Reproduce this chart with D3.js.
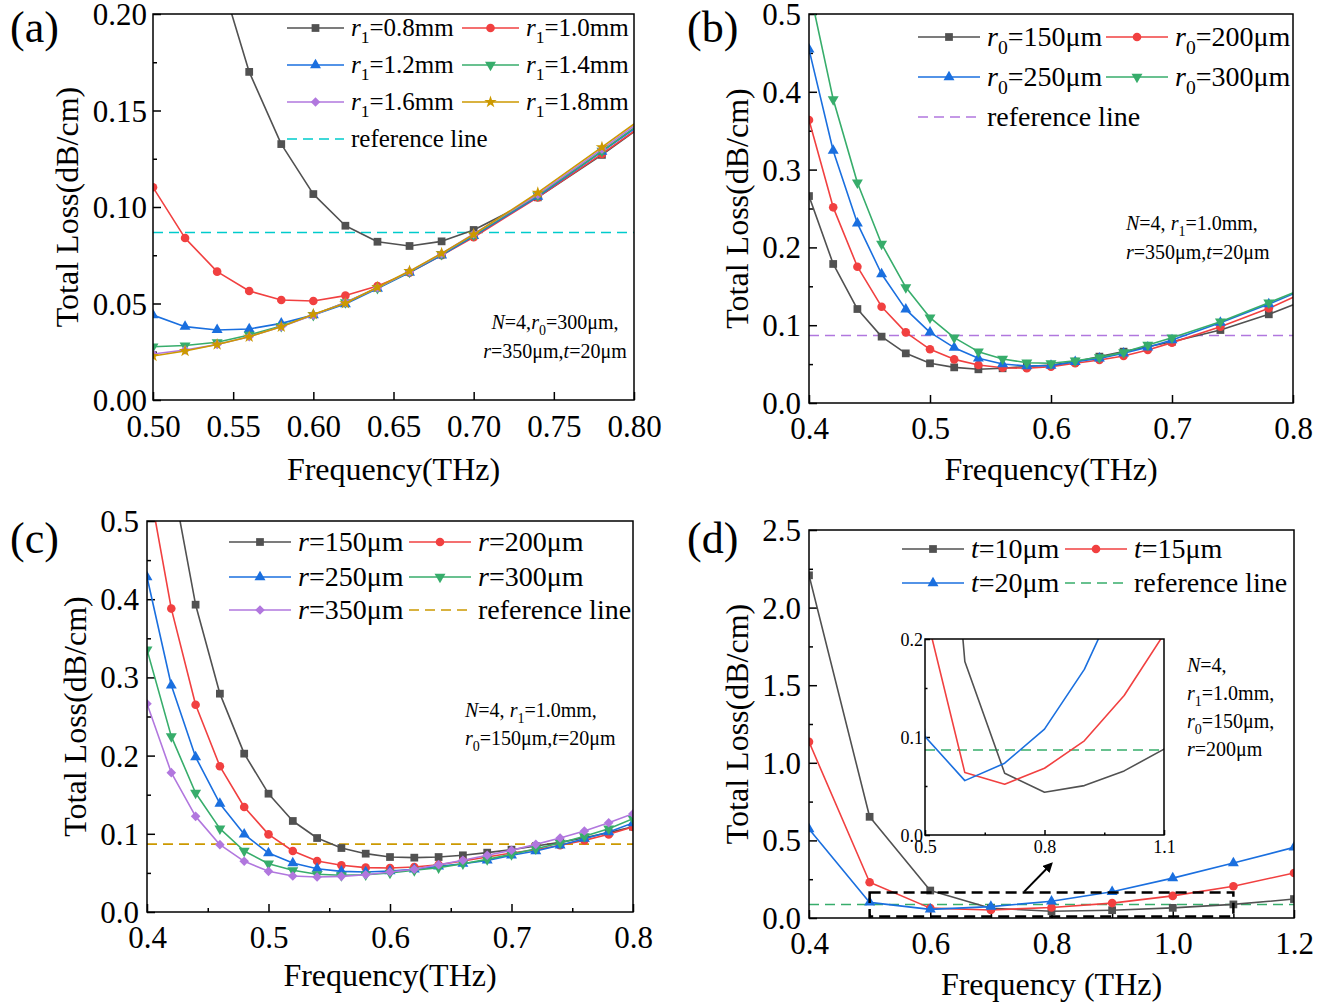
<!DOCTYPE html>
<html>
<head>
<meta charset="utf-8">
<script src="https://cdn.jsdelivr.net/npm/d3@7"></script>
<style>
  body { margin: 0; background: #fff; }
  svg { display: block; }
  text { font-family: 'Liberation Serif', 'Times New Roman', serif; fill: #000; }
</style>
</head>
<body>
<div id="chart"></div>
<script>
// ---------------- data ----------------
var refLoss = 0.0868;

// (a) r1 sweep
var freqA = [0.50,0.52,0.54,0.56,0.58,0.60,0.62,0.64,0.66,0.68,0.70,0.74,0.78,0.82];
var lossA_r08 = [0.370,0.290,0.225,0.170,0.1326,0.1067,0.0903,0.0820,0.0798,0.0822,0.0881,0.1050,0.1270,0.1510];
var lossA_r10 = [0.1102,0.0839,0.0665,0.0565,0.0518,0.0513,0.0541,0.0591,0.0660,0.0750,0.0843,0.1050,0.1275,0.1510];
var lossA_r12 = [0.0440,0.0380,0.0363,0.0368,0.0397,0.0440,0.0497,0.0577,0.0660,0.0750,0.0850,0.1054,0.1287,0.1520];
var lossA_r14 = [0.0276,0.0282,0.0299,0.0337,0.0383,0.0440,0.0505,0.0580,0.0663,0.0755,0.0855,0.1060,0.1290,0.1530];
var lossA_r16 = [0.0238,0.0259,0.0288,0.0328,0.0380,0.0440,0.0505,0.0582,0.0665,0.0758,0.0860,0.1065,0.1300,0.1540];
var lossA_r18 = [0.0228,0.0254,0.0288,0.0328,0.0380,0.0444,0.0501,0.0584,0.0668,0.0760,0.0858,0.1074,0.1310,0.1550];

// (b) r0 sweep
var freqB = [0.40,0.42,0.44,0.46,0.48,0.50,0.52,0.54,0.56,0.58,0.60,0.62,0.64,0.66,0.68,0.70,0.74,0.78,0.82];
var lossB_150 = [0.266,0.1787,0.1208,0.0853,0.0638,0.0510,0.0458,0.0433,0.0446,0.0470,0.0488,0.0531,0.0596,0.0660,0.0724,0.0788,0.0938,0.1140,0.1380];
var lossB_200 = [0.3638,0.2515,0.1752,0.1238,0.0908,0.0690,0.0561,0.0488,0.0454,0.0446,0.0467,0.0510,0.0552,0.0604,0.0681,0.0776,0.0981,0.1217,0.1500];
var lossB_250 = [0.4546,0.3243,0.2309,0.1658,0.1204,0.0908,0.0711,0.0574,0.0501,0.0476,0.0480,0.0530,0.0574,0.0639,0.0716,0.0810,0.1033,0.1272,0.1530];
var lossB_300 = [0.535,0.3903,0.2832,0.2044,0.1487,0.1097,0.0840,0.0660,0.0566,0.0518,0.0510,0.0544,0.0587,0.0651,0.0746,0.0840,0.1045,0.1290,0.1540];

// (c) r sweep
var freqC = [0.40,0.42,0.44,0.46,0.48,0.50,0.52,0.54,0.56,0.58,0.60,0.62,0.64,0.66,0.68,0.70,0.72,0.74,0.76,0.78,0.80];
var lossC_150 = [0.780,0.560,0.393,0.2792,0.2025,0.1513,0.1164,0.0946,0.0818,0.0746,0.0703,0.0695,0.0703,0.0725,0.0759,0.0797,0.0843,0.0890,0.0950,0.1015,0.1090];
var lossC_200 = [0.560,0.388,0.265,0.1863,0.1343,0.0993,0.0780,0.0652,0.0597,0.0567,0.0563,0.0575,0.0605,0.0652,0.0703,0.0754,0.0797,0.0853,0.0916,0.0993,0.1087];
var lossC_250 = [0.4284,0.2899,0.1982,0.1385,0.0993,0.0754,0.0627,0.0554,0.0520,0.0512,0.0524,0.0546,0.0584,0.0618,0.0660,0.0725,0.0780,0.0853,0.0938,0.1023,0.1138];
var lossC_300 = [0.3355,0.2246,0.1522,0.1066,0.0780,0.0618,0.0533,0.0482,0.0469,0.0477,0.0499,0.0533,0.0567,0.0618,0.0673,0.0737,0.0810,0.0882,0.0968,0.1066,0.1194];
var lossC_350 = [0.2664,0.1782,0.1223,0.0861,0.0648,0.0520,0.0460,0.0448,0.0456,0.0477,0.0512,0.0546,0.0605,0.0661,0.0725,0.0789,0.0865,0.0946,0.1036,0.1142,0.1257];

// (d) t sweep
var freqD = [0.4,0.5,0.6,0.7,0.8,0.9,1.0,1.1,1.2];
var lossD_t10 = [2.208,0.652,0.177,0.0630,0.0436,0.0504,0.0654,0.0876,0.1220];
var lossD_t15 = [1.135,0.230,0.0637,0.0518,0.0681,0.0961,0.1424,0.2050,0.2900];
var lossD_t20 = [0.573,0.1005,0.0555,0.0733,0.1080,0.1690,0.2570,0.3540,0.4550];

// zoomed region in (d) and the arrow pointing to the inset
var zoomFreq = [0.5, 1.1];
var zoomLoss = [0.01, 0.165];
var arrowFreq = [0.755, 0.80];
var arrowLoss = [0.17, 0.35];

// ---------------- drawing ----------------
var C = {gray:"#515151", red:"#F14040", blue:"#1A6FDF", green:"#37AD6B",
         purple:"#B177DE", orange:"#CC9900", cyan:"#00CBCC"};

var svg = d3.select("#chart").append("svg")
    .attr("width", 1338)
    .attr("height", 1005);

var defs = svg.append("defs");
defs.append("marker")
    .attr("id", "arrowHead")
    .attr("viewBox", "0 0 10 10")
    .attr("refX", 8).attr("refY", 5)
    .attr("markerWidth", 5).attr("markerHeight", 5)
    .attr("markerUnits", "strokeWidth")
    .attr("orient", "auto")
  .append("path")
    .attr("d", "M0,0 L10,5 L0,10 z")
    .attr("fill", "#000");

// marker shapes
function symbolFor(kind) {
  if (kind == "square")  return {d: d3.symbol(d3.symbolSquare, 60)(), rot: 0};
  if (kind == "circle")  return {d: d3.symbol(d3.symbolCircle, 58)(), rot: 0};
  if (kind == "up")      return {d: d3.symbol(d3.symbolTriangle, 52)(), rot: 0};
  if (kind == "down")    return {d: d3.symbol(d3.symbolTriangle, 52)(), rot: 180};
  if (kind == "diamond") return {d: d3.symbol(d3.symbolSquare, 46)(), rot: 45};
  return {d: d3.symbol(d3.symbolStar, 48)(), rot: 0};
}

// "*r*_1=0.8mm" -> italic r, subscript 1
function richText(sel, str, size) {
  var segs = [], cur = "", it = false;
  for (var k = 0; k < str.length; k++) {
    var ch = str[k];
    if (ch == "*") {
      if (cur) segs.push({t: cur, it: it, sub: false});
      cur = ""; it = !it;
    } else if (ch == "_") {
      if (cur) segs.push({t: cur, it: it, sub: false});
      cur = "";
      segs.push({t: str[k + 1], it: false, sub: true});
      k++;
    } else cur += ch;
  }
  if (cur) segs.push({t: cur, it: it, sub: false});
  var shifted = false;
  segs.forEach(function(s) {
    var ts = sel.append("tspan").text(s.t);
    if (s.it) ts.attr("font-style", "italic");
    if (s.sub) {
      ts.attr("font-size", size * 0.7).attr("dy", size * 0.28);
      shifted = true;
    } else if (shifted) {
      ts.attr("dy", -size * 0.28);
      shifted = false;
    }
  });
}

function drawPanel(p) {
  var g = svg.append("g");
  var x = d3.scaleLinear().domain(p.xDom).range([p.x0, p.x1]);
  var y = d3.scaleLinear().domain(p.yDom).range([p.y1, p.y0]);

  if (p.bg) {
    g.append("rect")
      .attr("x", p.x0).attr("y", p.y0)
      .attr("width", p.x1 - p.x0).attr("height", p.y1 - p.y0)
      .attr("fill", p.bg);
  }

  defs.append("clipPath").attr("id", "clip-" + p.id)
    .append("rect")
      .attr("x", p.x0).attr("y", p.y0)
      .attr("width", p.x1 - p.x0).attr("height", p.y1 - p.y0);

  // x axis (ticks inward)
  var xa = g.append("g").attr("transform", "translate(0," + p.y1 + ")")
    .call(d3.axisBottom(x).tickValues(p.xMajor).tickSize(-p.tick).tickFormat(d3.format(p.fx)));
  xa.select(".domain").remove();
  xa.selectAll("text").attr("y", p.xLabOff).attr("dy", 0)
    .attr("font-size", p.tickFont).attr("font-family", null);
  xa.selectAll("line").attr("stroke-width", 1.5);
  if (p.xMinor.length) {
    var xm = g.append("g").attr("transform", "translate(0," + p.y1 + ")")
      .call(d3.axisBottom(x).tickValues(p.xMinor).tickSize(-p.tick / 2).tickFormat(""));
    xm.select(".domain").remove();
    xm.selectAll("line").attr("stroke-width", 1.5);
  }

  // y axis
  var ya = g.append("g").attr("transform", "translate(" + p.x0 + ",0)")
    .call(d3.axisLeft(y).tickValues(p.yMajor).tickSize(-p.tick).tickPadding(p.yPad).tickFormat(d3.format(p.fy)));
  ya.select(".domain").remove();
  ya.selectAll("text").attr("dy", "0.34em")
    .attr("font-size", p.tickFont).attr("font-family", null);
  ya.selectAll("line").attr("stroke-width", 1.5);
  if (p.yMinor.length) {
    var ym = g.append("g").attr("transform", "translate(" + p.x0 + ",0)")
      .call(d3.axisLeft(y).tickValues(p.yMinor).tickSize(-p.tick / 2).tickFormat(""));
    ym.select(".domain").remove();
    ym.selectAll("line").attr("stroke-width", 1.5);
  }

  var plot = g.append("g").attr("clip-path", "url(#clip-" + p.id + ")");

  // reference line
  plot.append("line")
    .attr("x1", p.x0).attr("x2", p.x1)
    .attr("y1", y(refLoss)).attr("y2", y(refLoss))
    .attr("stroke", p.refColor).attr("stroke-width", 1.6)
    .attr("stroke-dasharray", "10,6");

  var line = d3.line()
    .x(function(d) { return x(d[0]); })
    .y(function(d) { return y(d[1]); });

  p.series.forEach(function(s) {
    var pts = d3.zip(s.x, s.y);
    plot.append("path")
      .datum(pts)
      .attr("d", line)
      .attr("fill", "none")
      .attr("stroke", s.color)
      .attr("stroke-width", 1.6)
      .attr("stroke-linejoin", "round");
    if (p.markers) {
      var sym = symbolFor(s.mk);
      plot.selectAll(null)
        .data(pts)
        .enter()
        .append("path")
          .attr("d", sym.d)
          .attr("transform", function(d) {
            return "translate(" + x(d[0]) + "," + y(d[1]) + ") rotate(" + sym.rot + ")";
          })
          .attr("fill", s.color);
    }
  });

  // frame
  g.append("rect")
    .attr("x", p.x0).attr("y", p.y0)
    .attr("width", p.x1 - p.x0).attr("height", p.y1 - p.y0)
    .attr("fill", "none").attr("stroke", "#000").attr("stroke-width", 1.5);

  // titles
  if (p.xTitle) {
    g.append("text")
      .attr("x", (p.x0 + p.x1) / 2).attr("y", p.xTitleY)
      .attr("text-anchor", "middle").attr("font-size", 32)
      .text(p.xTitle);
  }
  if (p.yTitleX) {
    g.append("text")
      .attr("transform", "translate(" + p.yTitleX + "," + (p.y0 + p.y1) / 2 + ") rotate(-90)")
      .attr("text-anchor", "middle").attr("dy", "0.35em").attr("font-size", 32)
      .text("Total Loss(dB/cm)");
  }
  if (p.label) {
    g.append("text")
      .attr("x", p.label.x).attr("y", p.label.y)
      .attr("font-size", 44)
      .text(p.label.text);
  }

  // legend
  if (p.legend) {
    var lg = p.legend;
    var items = p.series.map(function(s) { return s; })
      .concat([{label: "reference line", color: p.refColor, dashed: true}]);
    items.forEach(function(s, i) {
      var lx = lg.cols[i % 2], ly = lg.rows[Math.floor(i / 2)];
      g.append("line")
        .attr("x1", lx).attr("x2", lx + lg.len)
        .attr("y1", ly).attr("y2", ly)
        .attr("stroke", s.color).attr("stroke-width", 1.6)
        .attr("stroke-dasharray", s.dashed ? "10,6" : null);
      if (!s.dashed) {
        var sym = symbolFor(s.mk);
        g.append("path")
          .attr("d", sym.d)
          .attr("transform", "translate(" + (lx + lg.len / 2) + "," + ly + ") rotate(" + sym.rot + ")")
          .attr("fill", s.color);
      }
      var t = g.append("text")
        .attr("x", lx + lg.len + 7).attr("y", ly + lg.size * 0.33)
        .attr("font-size", lg.size);
      richText(t, s.label, lg.size);
    });
  }

  // parameter note
  if (p.note) {
    p.note.lines.forEach(function(str, i) {
      var t = g.append("text")
        .attr("x", p.note.x).attr("y", p.note.y[i])
        .attr("text-anchor", p.note.anchor)
        .attr("font-size", 20);
      richText(t, str, 20);
    });
  }

  return {x: x, y: y, g: g};
}

// (a)
drawPanel({
  id: "a", x0: 153, x1: 634, y0: 14, y1: 400,
  xDom: [0.5, 0.8], yDom: [0, 0.2],
  xMajor: [0.50, 0.55, 0.60, 0.65, 0.70, 0.75, 0.80], xMinor: [],
  yMajor: [0, 0.05, 0.10, 0.15, 0.20], yMinor: [0.025, 0.075, 0.125, 0.175],
  fx: ".2f", fy: ".2f", tick: 8, tickFont: 31, xLabOff: 37, yPad: 6, markers: true,
  refColor: C.cyan,
  series: [
    {label: "*r*_1=0.8mm", x: freqA, y: lossA_r08, color: C.gray, mk: "square"},
    {label: "*r*_1=1.0mm", x: freqA, y: lossA_r10, color: C.red, mk: "circle"},
    {label: "*r*_1=1.2mm", x: freqA, y: lossA_r12, color: C.blue, mk: "up"},
    {label: "*r*_1=1.4mm", x: freqA, y: lossA_r14, color: C.green, mk: "down"},
    {label: "*r*_1=1.6mm", x: freqA, y: lossA_r16, color: C.purple, mk: "diamond"},
    {label: "*r*_1=1.8mm", x: freqA, y: lossA_r18, color: C.orange, mk: "star"}
  ],
  legend: {cols: [287, 462], len: 57, rows: [28, 65, 102, 139], size: 25},
  note: {lines: ["*N*=4,*r*_0=300μm,", "*r*=350μm,*t*=20μm"], x: 555, y: [329, 358], anchor: "middle"},
  label: {text: "(a)", x: 10, y: 42},
  yTitleX: 67, xTitle: "Frequency(THz)", xTitleY: 480
});

// (b)
drawPanel({
  id: "b", x0: 809, x1: 1293, y0: 14, y1: 403,
  xDom: [0.4, 0.8], yDom: [0, 0.5],
  xMajor: [0.4, 0.5, 0.6, 0.7, 0.8], xMinor: [],
  yMajor: [0, 0.1, 0.2, 0.3, 0.4, 0.5], yMinor: [0.05, 0.15, 0.25, 0.35, 0.45],
  fx: ".1f", fy: ".1f", tick: 8, tickFont: 31, xLabOff: 36, yPad: 8, markers: true,
  refColor: C.purple,
  series: [
    {label: "*r*_0=150μm", x: freqB, y: lossB_150, color: C.gray, mk: "square"},
    {label: "*r*_0=200μm", x: freqB, y: lossB_200, color: C.red, mk: "circle"},
    {label: "*r*_0=250μm", x: freqB, y: lossB_250, color: C.blue, mk: "up"},
    {label: "*r*_0=300μm", x: freqB, y: lossB_300, color: C.green, mk: "down"}
  ],
  legend: {cols: [918, 1106], len: 62, rows: [37, 77, 117], size: 28},
  note: {lines: ["*N*=4, *r*_1=1.0mm,", "*r*=350μm,*t*=20μm"], x: 1126, y: [230, 259], anchor: "start"},
  label: {text: "(b)", x: 687, y: 42},
  yTitleX: 737, xTitle: "Frequency(THz)", xTitleY: 480
});

// (c)
drawPanel({
  id: "c", x0: 147, x1: 633, y0: 521, y1: 912,
  xDom: [0.4, 0.8], yDom: [0, 0.5],
  xMajor: [0.4, 0.5, 0.6, 0.7, 0.8], xMinor: [0.45, 0.55, 0.65, 0.75],
  yMajor: [0, 0.1, 0.2, 0.3, 0.4, 0.5], yMinor: [0.05, 0.15, 0.25, 0.35, 0.45],
  fx: ".1f", fy: ".1f", tick: 8, tickFont: 31, xLabOff: 36, yPad: 8, markers: true,
  refColor: C.orange,
  series: [
    {label: "*r*=150μm", x: freqC, y: lossC_150, color: C.gray, mk: "square"},
    {label: "*r*=200μm", x: freqC, y: lossC_200, color: C.red, mk: "circle"},
    {label: "*r*=250μm", x: freqC, y: lossC_250, color: C.blue, mk: "up"},
    {label: "*r*=300μm", x: freqC, y: lossC_300, color: C.green, mk: "down"},
    {label: "*r*=350μm", x: freqC, y: lossC_350, color: C.purple, mk: "diamond"}
  ],
  legend: {cols: [229, 409], len: 62, rows: [542, 577, 610], size: 28},
  note: {lines: ["*N*=4, *r*_1=1.0mm,", "*r*_0=150μm,*t*=20μm"], x: 465, y: [717, 745], anchor: "start"},
  label: {text: "(c)", x: 10, y: 553},
  yTitleX: 75, xTitle: "Frequency(THz)", xTitleY: 986
});

// (d)
var seriesD = [
  {label: "*t*=10μm", x: freqD, y: lossD_t10, color: C.gray, mk: "square"},
  {label: "*t*=15μm", x: freqD, y: lossD_t15, color: C.red, mk: "circle"},
  {label: "*t*=20μm", x: freqD, y: lossD_t20, color: C.blue, mk: "up"}
];
var pd = drawPanel({
  id: "d", x0: 809, x1: 1294, y0: 530, y1: 918,
  xDom: [0.4, 1.2], yDom: [0, 2.5],
  xMajor: [0.4, 0.6, 0.8, 1.0, 1.2], xMinor: [0.5, 0.7, 0.9, 1.1],
  yMajor: [0, 0.5, 1.0, 1.5, 2.0, 2.5], yMinor: [0.25, 0.75, 1.25, 1.75, 2.25],
  fx: ".1f", fy: ".1f", tick: 8, tickFont: 31, xLabOff: 36, yPad: 8, markers: true,
  refColor: C.green,
  series: seriesD,
  legend: {cols: [902, 1065], len: 62, rows: [549, 583], size: 28},
  note: {lines: ["*N*=4,", "*r*_1=1.0mm,", "*r*_0=150μm,", "*r*=200μm"], x: 1187, y: [672, 700, 728, 756], anchor: "start"},
  label: {text: "(d)", x: 687, y: 553},
  yTitleX: 737, xTitle: "Frequency (THz)", xTitleY: 995
});

// dashed box marking the zoomed region, and arrow to the inset
pd.g.append("rect")
  .attr("x", pd.x(zoomFreq[0])).attr("y", pd.y(zoomLoss[1]))
  .attr("width", pd.x(zoomFreq[1]) - pd.x(zoomFreq[0]))
  .attr("height", pd.y(zoomLoss[0]) - pd.y(zoomLoss[1]))
  .attr("fill", "none").attr("stroke", "#000").attr("stroke-width", 2.5)
  .attr("stroke-dasharray", "11,6");
pd.g.append("line")
  .attr("x1", pd.x(arrowFreq[0])).attr("y1", pd.y(arrowLoss[0]))
  .attr("x2", pd.x(arrowFreq[1])).attr("y2", pd.y(arrowLoss[1]))
  .attr("stroke", "#000").attr("stroke-width", 2)
  .attr("marker-end", "url(#arrowHead)");

// inset of (d)
drawPanel({
  id: "d-inset", x0: 925, x1: 1164, y0: 639, y1: 835, bg: "#fff",
  xDom: [0.5, 1.1], yDom: [0, 0.2],
  xMajor: [0.5, 0.8, 1.1], xMinor: [0.65, 0.95],
  yMajor: [0, 0.1, 0.2], yMinor: [0.05, 0.15],
  fx: ".1f", fy: ".1f", tick: 5, tickFont: 18, xLabOff: 18, yPad: 2, markers: false,
  refColor: C.green,
  series: seriesD
});
</script>
</body>
</html>
